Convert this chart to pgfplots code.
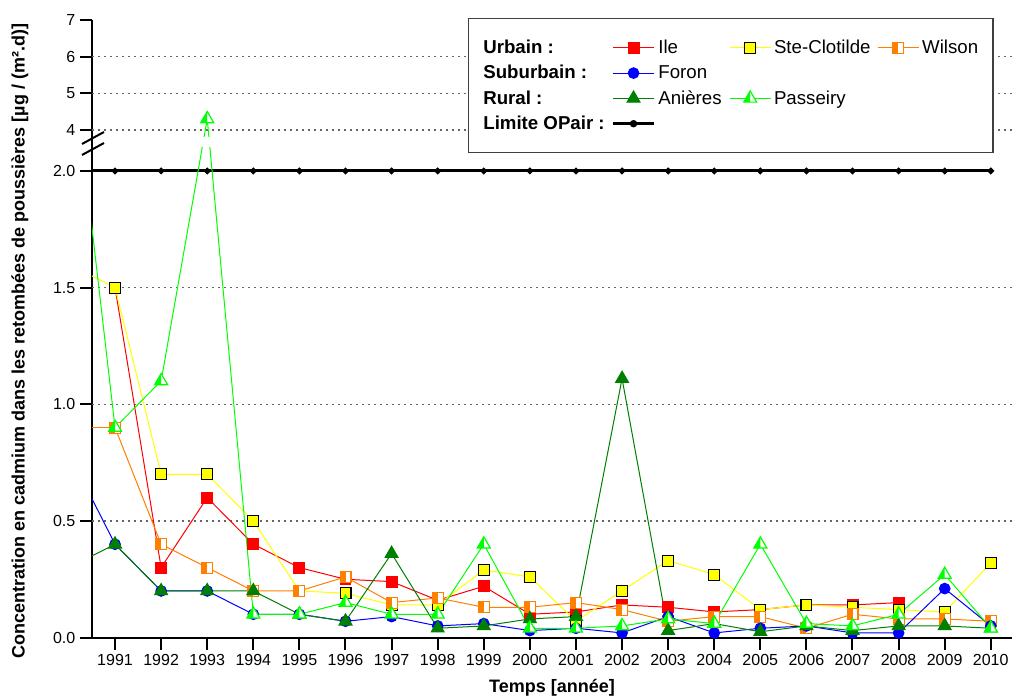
\documentclass[border=0pt]{standalone}
\usepackage{fontspec}
\setmainfont{Liberation Sans}
\usepackage{pgfplots}
\pgfplotsset{compat=1.18}
\definecolor{cRed}{RGB}{255,0,0}
\definecolor{cYel}{RGB}{255,255,0}
\definecolor{cOra}{RGB}{255,128,0}
\definecolor{cBlue}{RGB}{0,0,255}
\definecolor{cDk}{RGB}{0,128,0}
\definecolor{cLime}{RGB}{0,255,0}
\pgfdeclareplotmark{halfsquare}{%
  \begin{pgfscope}\pgfsetfillcolor{white}%
  \pgfpathrectangle{\pgfpoint{-\pgfplotmarksize}{-\pgfplotmarksize}}{\pgfpoint{2\pgfplotmarksize}{2\pgfplotmarksize}}%
  \pgfusepathqfill\end{pgfscope}%
  \pgfpathrectangle{\pgfpoint{-\pgfplotmarksize}{-\pgfplotmarksize}}{\pgfpoint{\pgfplotmarksize}{2\pgfplotmarksize}}%
  \pgfusepathqfill
  \pgfpathrectangle{\pgfpoint{-\pgfplotmarksize}{-\pgfplotmarksize}}{\pgfpoint{2\pgfplotmarksize}{2\pgfplotmarksize}}%
  \pgfusepathqstroke}
\pgfdeclareplotmark{halftriangle}{%
  \begin{pgfscope}\pgfsetfillcolor{white}%
  \pgfpathmoveto{\pgfpointpolar{90}{\pgfplotmarksize}}%
  \pgfpathlineto{\pgfpointpolar{210}{\pgfplotmarksize}}%
  \pgfpathlineto{\pgfpointpolar{330}{\pgfplotmarksize}}%
  \pgfpathclose\pgfusepathqfill\end{pgfscope}%
  \pgfpathmoveto{\pgfpointpolar{90}{\pgfplotmarksize}}%
  \pgfpathlineto{\pgfpointpolar{210}{\pgfplotmarksize}}%
  \pgfpathlineto{\pgfpointpolar{270}{0.5\pgfplotmarksize}}%
  \pgfpathclose\pgfusepathqfill
  \pgfpathmoveto{\pgfpointpolar{90}{\pgfplotmarksize}}%
  \pgfpathlineto{\pgfpointpolar{210}{\pgfplotmarksize}}%
  \pgfpathlineto{\pgfpointpolar{330}{\pgfplotmarksize}}%
  \pgfpathclose\pgfusepathqstroke}
\begin{document}
\begin{tikzpicture}
\begin{axis}[
  scale only axis, width=690pt, height=463.2pt,
  xmin=1990.5, xmax=2010.46, ymin=0, ymax=7,
  y coord trafo/.code={\pgfmathparse{ifthenelse(#1>3,1.5473+0.1571*#1,#1)}},
  axis x line*=bottom, axis y line*=left,
  axis line style={line width=1.5pt, black},
  xtick={1991,...,2010},
  ytick={0,0.5,1,1.5,2,4,5,6,7},
  yticklabels={0.0,0.5,1.0,1.5,2.0,4,5,6,7},
  extra y ticks={0.5,1,1.5,4,5,6}, extra y tick labels={},
  extra y tick style={grid=major, major tick length=0pt},
  major grid style={black!60, line width=1pt, dash pattern=on 1.4pt off 3.1pt},
  tick align=outside, major tick length=9pt,
  tick style={line width=1.5pt, black},
  /pgf/number format/1000 sep={},
  /pgf/number format/assume math mode=true,
  tick label style={font=\fontsize{12}{14}\selectfont},
  every axis y label/.style={at={(axis description cs:-0.0783,0.48)}, anchor=center, rotate=90, font=\bfseries\fontsize{13.5}{15}\selectfont},
  every axis x label/.style={at={(axis description cs:0.5,-0.0816)}, anchor=center, font=\bfseries\fontsize{13.5}{15}\selectfont},
  xlabel={Temps [année]},
  ylabel={Concentration en cadmium dans les retombées de poussières [µg / (m².d)]},
  legend columns=4,
  legend cell align=left,
  legend image code/.code={\draw[mark repeat=2,mark phase=2,#1] plot coordinates {(0pt,0pt) (15.5pt,0pt) (31pt,0pt)};},
  legend style={at={(rel axis cs:0.4087,1.003)}, anchor=north west, draw=black!75, line width=1pt,
    font=\fontsize{14}{16}\selectfont, inner xsep=9pt, inner ysep=14pt, row sep=3.25pt,
    /tikz/every even column/.append style={column sep=3pt}},
]
% Limite OPair
\addplot[black, line width=2.25pt, mark=*, mark size=1.15pt, forget plot] coordinates {
(1990,2)(1991,2)(1992,2)(1993,2)(1994,2)(1995,2)(1996,2)(1997,2)(1998,2)(1999,2)(2000,2)
(2001,2)(2002,2)(2003,2)(2004,2)(2005,2)(2006,2)(2007,2)(2008,2)(2009,2)(2010,2)};
% Ile
\addplot[cRed, line width=0.75pt, mark=square*, mark size=4.1pt, mark options={fill=cRed, draw=cRed}, forget plot] coordinates {
(1991,1.5)(1992,0.3)(1993,0.6)(1994,0.4)(1995,0.3)(1996,0.25)(1997,0.24)(1998,0.16)(1999,0.22)(2000,0.10)
(2001,0.11)(2002,0.14)(2003,0.13)(2004,0.11)(2005,0.12)(2006,0.14)(2007,0.14)(2008,0.15)};
% Ste-Clotilde
\addplot[cYel, line width=0.75pt, forget plot] coordinates {(1990,1.6)(1991,1.5)};
\addplot[cYel, line width=0.75pt, mark=square*, mark size=4.1pt, mark options={fill=cYel, draw=black, line width=0.8pt}, forget plot] coordinates {
(1991,1.5)(1992,0.7)(1993,0.7)(1994,0.5)(1995,0.2)(1996,0.19)(1997,0.14)(1998,0.14)(1999,0.29)(2000,0.26)
(2001,0.07)(2002,0.2)(2003,0.33)(2004,0.27)(2005,0.12)(2006,0.14)(2007,0.13)(2008,0.12)(2009,0.11)(2010,0.32)};
% Wilson
\addplot[cOra, line width=0.75pt, forget plot] coordinates {(1990,0.9)(1991,0.9)};
\addplot[cOra, line width=0.75pt, mark=halfsquare, mark size=4.1pt, mark options={fill=cOra, draw=cOra, line width=0.8pt}, forget plot] coordinates {
(1991,0.9)(1992,0.4)(1993,0.3)(1994,0.2)(1995,0.2)(1996,0.26)(1997,0.15)(1998,0.17)(1999,0.13)(2000,0.13)
(2001,0.15)(2002,0.12)(2003,0.07)(2004,0.09)(2005,0.09)(2006,0.04)(2007,0.1)(2008,0.08)(2009,0.08)(2010,0.07)};
% Foron
\addplot[cBlue, line width=0.75pt, forget plot] coordinates {(1990,0.79)(1991,0.4)};
\addplot[cBlue, line width=0.75pt, mark=*, mark size=4pt, mark options={fill=cBlue, draw=cBlue}, forget plot] coordinates {
(1991,0.4)(1992,0.2)(1993,0.2)(1994,0.1)(1995,0.1)(1996,0.07)(1997,0.09)(1998,0.05)(1999,0.06)(2000,0.03)
(2001,0.04)(2002,0.02)(2003,0.09)(2004,0.02)(2005,0.04)(2006,0.05)(2007,0.02)(2008,0.02)(2009,0.21)(2010,0.05)};
% Anieres
\addplot[cDk, line width=0.75pt, forget plot] coordinates {(1990,0.30)(1991,0.4)};
\addplot[cDk, line width=0.75pt, mark=triangle*, mark size=5.6pt, mark options={fill=cDk, draw=cDk}, forget plot] coordinates {
(1991,0.4)(1992,0.2)(1993,0.2)(1994,0.2)(1995,0.1)(1996,0.07)(1997,0.36)(1998,0.04)(1999,0.05)(2000,0.08)
(2001,0.09)(2002,1.11)(2003,0.03)(2004,0.06)(2005,0.025)(2006,0.05)(2007,0.03)(2008,0.05)(2009,0.05)(2010,0.04)};
% Passeiry
\addplot[cLime, line width=0.75pt, forget plot] coordinates {(1990,2.61)(1991,0.9)};
\addplot[cLime, line width=0.75pt, mark=halftriangle, mark size=5.6pt, mark options={fill=cLime, draw=cLime, line width=0.9pt}, forget plot] coordinates {
(1991,0.9)(1992,1.1)(1993,4.3)(1994,0.1)(1995,0.1)(1996,0.15)(1997,0.1)(1998,0.1)(1999,0.4)(2000,0.04)
(2001,0.04)(2002,0.05)(2003,0.08)(2004,0.06)(2005,0.4)(2006,0.06)(2007,0.05)(2008,0.1)(2009,0.27)(2010,0.04)};
% legend
\addlegendimage{empty legend}\addlegendentry{\textbf{Urbain :}}
\addlegendimage{cRed, line width=0.75pt, mark=square*, mark size=4.1pt, mark options={fill=cRed, draw=cRed}}\addlegendentry{Ile}
\addlegendimage{cYel, line width=0.75pt, mark=square*, mark size=4.1pt, mark options={fill=cYel, draw=black, line width=0.8pt}}\addlegendentry{Ste-Clotilde}
\addlegendimage{cOra, line width=0.75pt, mark=halfsquare, mark size=4.1pt, mark options={fill=cOra, draw=cOra, line width=0.8pt}}\addlegendentry{Wilson}
\addlegendimage{empty legend}\addlegendentry{\textbf{Suburbain :}}
\addlegendimage{cBlue, line width=0.75pt, mark=*, mark size=4pt, mark options={fill=cBlue, draw=cBlue}}\addlegendentry{Foron}
\addlegendimage{empty legend}\addlegendentry{}
\addlegendimage{empty legend}\addlegendentry{}
\addlegendimage{empty legend}\addlegendentry{\textbf{Rural :}}
\addlegendimage{cDk, line width=0.75pt, mark=triangle*, mark size=5.6pt, mark options={fill=cDk, draw=cDk}}\addlegendentry{\makebox[48pt][l]{Anières}}
\addlegendimage{cLime, line width=0.75pt, mark=halftriangle, mark size=5.6pt, mark options={fill=cLime, draw=cLime, line width=0.9pt}}\addlegendentry{Passeiry}
\addlegendimage{empty legend}\addlegendentry{}
\addlegendimage{empty legend}\addlegendentry{\textbf{Limite OPair :}}
\addlegendimage{black, line width=2.25pt, mark=*, mark size=1.6pt}\addlegendentry{}
\end{axis}
% axis break marker
\fill[white] (1.5pt,367.95pt) rectangle (156pt,375.45pt);
\draw[line width=1.5pt] (-7.5pt,361.95pt) -- (9pt,370.95pt);
\draw[line width=1.5pt] (-7.5pt,370.2pt) -- (9pt,379.2pt);
\pgfresetboundingbox
\path[use as bounding box] (-69pt,-45.3pt) rectangle (690pt,478.2pt);
\end{tikzpicture}
\end{document}
